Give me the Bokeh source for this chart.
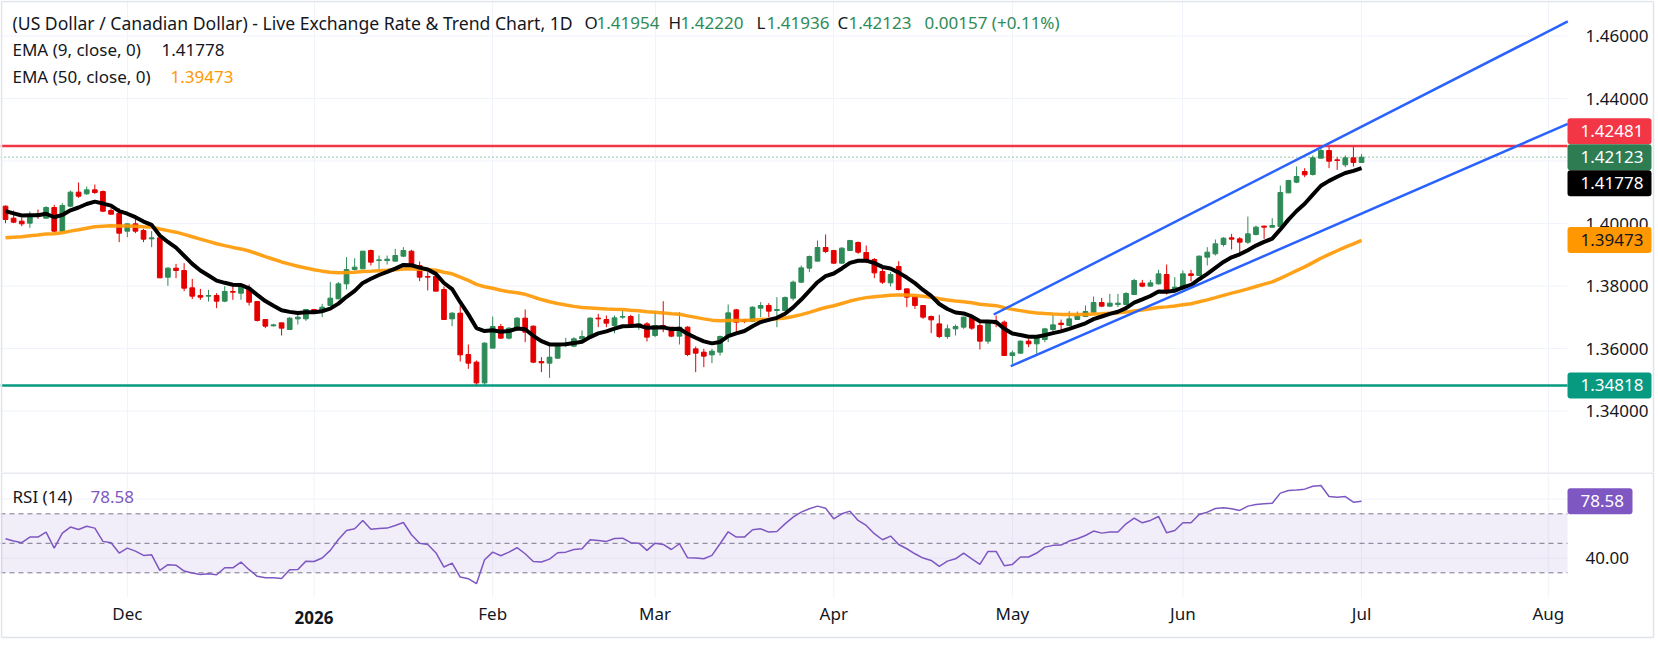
import datetime as dt
from bokeh.plotting import figure
from bokeh.layouts import column
from bokeh.models import (Range1d, FixedTicker, PrintfTickFormatter, BoxAnnotation,
                          Label, ColumnDataSource)
from bokeh.embed import file_html
from bokeh.resources import INLINE

# ---------------- data ----------------
first_day = dt.date(2025, 11, 10)

opens = [
    1.40555, 1.40171, 1.40075, 1.40011, 1.40309, 1.40171, 1.40512, 1.39755, 1.40555, 1.41003,
    1.40949, 1.41077, 1.41024, 1.40416, 1.40320, 1.39755, 1.39989, 1.39776, 1.39509, 1.39541,
    1.38283, 1.38571, 1.38496, 1.37941, 1.37696, 1.37675, 1.37696, 1.37515, 1.37824, 1.37771,
    1.37931, 1.37504, 1.36928, 1.36725, 1.36821, 1.36608, 1.36949, 1.36949, 1.37248, 1.37163,
    1.37376, 1.37589, 1.38069, 1.38528, 1.38549, 1.39136, 1.38816, 1.38816, 1.38795, 1.38955,
    1.39115, 1.38656, 1.38304, 1.38304, 1.37888, 1.36949, 1.37131, 1.35808, 1.35563, 1.34900,
    1.36011, 1.36704, 1.36331, 1.36619, 1.36971, 1.36715, 1.35584, 1.35531, 1.35691, 1.36128,
    1.36075, 1.36309, 1.36363, 1.36971, 1.36928, 1.36736, 1.37003, 1.37024, 1.36757, 1.36789,
    1.36416, 1.36736, 1.36683, 1.36395, 1.36683, 1.35989, 1.35883, 1.35797, 1.35883, 1.36384,
    1.37237, 1.36917, 1.36864, 1.37291, 1.37376, 1.37216, 1.37216, 1.37611, 1.38123, 1.38571,
    1.38795, 1.39232, 1.39136, 1.38731, 1.39136, 1.39392, 1.39072, 1.38848, 1.38464, 1.38101,
    1.38624, 1.37909, 1.37664, 1.37376, 1.37024, 1.36789, 1.36384, 1.36629, 1.36683, 1.36981,
    1.36736, 1.36235, 1.36843, 1.36843, 1.35776, 1.35851, 1.36235, 1.36149, 1.36288, 1.36608,
    1.36811, 1.36736, 1.36928, 1.37024, 1.37163, 1.37472, 1.37355, 1.37408, 1.37408, 1.37728,
    1.38091, 1.37995, 1.38069, 1.38368, 1.37824, 1.37909, 1.38389, 1.38336, 1.38923, 1.39029,
    1.39328, 1.39541, 1.39509, 1.39403, 1.39648, 1.39915, 1.39883, 1.39904, 1.40981, 1.41323,
    1.41664, 1.41568, 1.42091, 1.42336, 1.42037, 1.41877, 1.42101, 1.41954]

highs = [
    1.40576, 1.40416, 1.40181, 1.40384, 1.40448, 1.40555, 1.40597, 1.40651, 1.41056, 1.41312,
    1.41184, 1.41248, 1.41056, 1.40491, 1.40491, 1.39995, 1.40149, 1.39829, 1.39755, 1.39584,
    1.38603, 1.38709, 1.38731, 1.38229, 1.37909, 1.37877, 1.37771, 1.37995, 1.37995, 1.38037,
    1.38048, 1.37510, 1.36935, 1.36789, 1.36828, 1.37003, 1.37163, 1.37269, 1.37269, 1.37429,
    1.38123, 1.38123, 1.38923, 1.38891, 1.39120, 1.39168, 1.38976, 1.38976, 1.39189, 1.39243,
    1.39157, 1.38784, 1.38443, 1.38443, 1.37984, 1.37163, 1.37376, 1.36128, 1.35616, 1.36203,
    1.37024, 1.36789, 1.36683, 1.37003, 1.37248, 1.36736, 1.35723, 1.36149, 1.36171, 1.36341,
    1.36363, 1.36576, 1.37003, 1.37109, 1.37056, 1.37056, 1.37237, 1.37077, 1.37109, 1.36843,
    1.37184, 1.37515, 1.36690, 1.37163, 1.36715, 1.36064, 1.35989, 1.35989, 1.36416, 1.37408,
    1.37269, 1.36949, 1.37344, 1.37483, 1.37451, 1.37643, 1.37664, 1.38176, 1.38656, 1.38976,
    1.39456, 1.39648, 1.39157, 1.39243, 1.39477, 1.39424, 1.39296, 1.38891, 1.38581, 1.38443,
    1.38795, 1.37915, 1.37670, 1.37381, 1.37056, 1.37077, 1.36768, 1.36768, 1.37024, 1.37024,
    1.36864, 1.36896, 1.37056, 1.36896, 1.35936, 1.36256, 1.36309, 1.36416, 1.36661, 1.37077,
    1.36928, 1.37195, 1.37184, 1.37376, 1.37664, 1.37621, 1.37749, 1.37749, 1.37803, 1.38229,
    1.38197, 1.38197, 1.38517, 1.38688, 1.38283, 1.38496, 1.38517, 1.38976, 1.39243, 1.39488,
    1.39563, 1.39669, 1.39563, 1.40224, 1.39936, 1.39936, 1.40171, 1.41216, 1.41397, 1.41824,
    1.41771, 1.42176, 1.42443, 1.42481, 1.42123, 1.42176, 1.42464, 1.42220]

lows = [
    1.40011, 1.40011, 1.39915, 1.39861, 1.40149, 1.40165, 1.39723, 1.39750, 1.40523, 1.40821,
    1.40917, 1.40949, 1.40363, 1.40290, 1.39403, 1.39563, 1.39691, 1.39403, 1.39243, 1.38255,
    1.38005, 1.38251, 1.37835, 1.37579, 1.37557, 1.37504, 1.37291, 1.37483, 1.37557, 1.37557,
    1.37376, 1.36864, 1.36651, 1.36704, 1.36416, 1.36597, 1.36768, 1.36885, 1.37155, 1.37003,
    1.37370, 1.37580, 1.37888, 1.38496, 1.38540, 1.38656, 1.38549, 1.38688, 1.38790, 1.38923,
    1.38620, 1.38155, 1.37856, 1.37830, 1.36920, 1.36715, 1.35584, 1.35349, 1.34830, 1.34818,
    1.36005, 1.36309, 1.36288, 1.36555, 1.36203, 1.35531, 1.35243, 1.35061, 1.35669, 1.36043,
    1.36043, 1.36203, 1.36309, 1.36683, 1.36683, 1.36491, 1.36949, 1.36715, 1.36597, 1.36224,
    1.36363, 1.36523, 1.36363, 1.36128, 1.35755, 1.35243, 1.35403, 1.35531, 1.35776, 1.36203,
    1.36491, 1.36811, 1.36843, 1.37003, 1.37003, 1.36683, 1.37195, 1.37536, 1.38091, 1.38443,
    1.38790, 1.39051, 1.38709, 1.38709, 1.39130, 1.39029, 1.38731, 1.38251, 1.38069, 1.37984,
    1.37856, 1.37323, 1.37269, 1.36949, 1.36491, 1.36331, 1.36309, 1.36416, 1.36629, 1.36597,
    1.35968, 1.36149, 1.36683, 1.35770, 1.35509, 1.35829, 1.36043, 1.35829, 1.36203, 1.36469,
    1.36501, 1.36715, 1.36917, 1.37003, 1.37131, 1.37323, 1.37344, 1.37323, 1.37376, 1.37717,
    1.37963, 1.37990, 1.38048, 1.37728, 1.37803, 1.37856, 1.38144, 1.38325, 1.38656, 1.38976,
    1.39264, 1.39168, 1.38976, 1.39349, 1.39616, 1.39509, 1.39861, 1.39900, 1.40971, 1.41291,
    1.41483, 1.41536, 1.42085, 1.41771, 1.41717, 1.41803, 1.41824, 1.41936]

closes = [
    1.40128, 1.40043, 1.39989, 1.40288, 1.40256, 1.40512, 1.39755, 1.40576, 1.41003, 1.40875,
    1.41077, 1.40992, 1.40395, 1.40299, 1.39691, 1.39989, 1.39755, 1.39499, 1.39541, 1.38261,
    1.38571, 1.38496, 1.37931, 1.37675, 1.37643, 1.37696, 1.37515, 1.37824, 1.37803, 1.37995,
    1.37483, 1.36896, 1.36715, 1.36757, 1.36651, 1.36971, 1.37003, 1.37248, 1.37163, 1.37323,
    1.37611, 1.38069, 1.38528, 1.38603, 1.39115, 1.38763, 1.38837, 1.38859, 1.38976, 1.39136,
    1.38624, 1.38283, 1.38283, 1.37835, 1.36928, 1.37131, 1.35797, 1.35531, 1.34900, 1.36171,
    1.36704, 1.36331, 1.36651, 1.36971, 1.36523, 1.35563, 1.35541, 1.35723, 1.36128, 1.36171,
    1.36309, 1.36384, 1.36971, 1.36949, 1.36811, 1.36981, 1.37024, 1.36757, 1.36789, 1.36363,
    1.36736, 1.36683, 1.36395, 1.36683, 1.35808, 1.35851, 1.35755, 1.35915, 1.36384, 1.37141,
    1.36843, 1.36864, 1.37323, 1.37376, 1.37195, 1.37248, 1.37632, 1.38123, 1.38581, 1.38944,
    1.39232, 1.39104, 1.38731, 1.39211, 1.39456, 1.39083, 1.38816, 1.38421, 1.38123, 1.38368,
    1.37888, 1.37643, 1.37376, 1.37003, 1.36917, 1.36384, 1.36629, 1.36704, 1.37003, 1.36651,
    1.36235, 1.36843, 1.36789, 1.35776, 1.35861, 1.36235, 1.36149, 1.36384, 1.36629, 1.36757,
    1.36768, 1.36949, 1.37056, 1.37184, 1.37472, 1.37355, 1.37451, 1.37451, 1.37760, 1.38176,
    1.37995, 1.38101, 1.38389, 1.37803, 1.37963, 1.38389, 1.38336, 1.38955, 1.39083, 1.39349,
    1.39531, 1.39499, 1.39403, 1.39669, 1.39883, 1.39883, 1.39936, 1.40992, 1.41376, 1.41504,
    1.41557, 1.42101, 1.42336, 1.41995, 1.42016, 1.42101, 1.41954, 1.42123]

rsi_values = [
    53.1, 51.5, 50.4, 54.2, 54.2, 57.6, 46.7, 56.9, 61.0, 59.4,
    61.6, 60.3, 51.3, 50.4, 43.4, 46.7, 44.7, 41.8, 42.2, 31.6,
    35.5, 35.2, 31.2, 29.8, 28.9, 29.4, 28.7, 33.4, 33.4, 37.3,
    32.1, 27.6, 26.7, 26.7, 26.2, 32.1, 32.3, 37.9, 37.7, 40.0,
    45.2, 52.6, 58.7, 59.8, 65.5, 59.6, 60.1, 60.3, 62.1, 64.1,
    55.8, 50.1, 49.2, 43.6, 33.9, 36.6, 27.1, 26.0, 22.6, 38.8,
    44.0, 41.6, 44.0, 47.0, 42.9, 37.7, 37.3, 39.3, 43.6, 44.0,
    45.8, 46.3, 52.4, 51.9, 51.3, 53.3, 53.5, 50.4, 50.1, 45.2,
    50.1, 49.2, 45.8, 49.7, 40.2, 40.0, 39.5, 41.8, 49.7, 57.8,
    54.2, 54.2, 59.2, 59.8, 57.6, 58.0, 63.2, 67.7, 71.1, 73.4,
    75.2, 73.8, 66.6, 70.0, 71.8, 65.5, 62.1, 56.5, 52.4, 54.9,
    49.2, 46.3, 42.9, 40.0, 38.4, 34.3, 37.9, 39.5, 43.4, 39.5,
    35.7, 44.5, 44.5, 34.8, 35.7, 40.7, 40.7, 43.4, 47.4, 48.6,
    48.8, 51.5, 53.1, 55.3, 58.3, 56.9, 57.6, 57.6, 63.2, 67.1,
    63.9, 65.5, 68.2, 57.1, 58.7, 63.9, 63.9, 69.5, 71.1, 73.6,
    74.1, 73.4, 72.3, 75.2, 76.3, 76.8, 77.2, 84.0, 85.8, 86.2,
    86.7, 88.7, 89.2, 81.7, 81.3, 81.7, 77.9, 78.58]

ema9_start = 1.40395      # EMA values on the first bar
ema50_start = 1.39541
ema9_last_txt = "1.41778"
ema50_last_txt = "1.39473"

resistance = 1.42481
support = 1.34818
channel_upper_x = [121.7, 192.4]   # bar number / price
channel_upper_y = [1.37088, 1.46466]
channel_lower_x = [123.8, 192.4]
channel_lower_y = [1.35435, 1.43187]

price_ticks = [1.34, 1.36, 1.38, 1.40, 1.42, 1.44, 1.46]
rsi_ticks = [40, 80]
rsi_levels = [70, 50, 30]
month_names = {12: "Dec", 1: "2026", 2: "Feb", 3: "Mar", 4: "Apr",
               5: "May", 6: "Jun", 7: "Jul", 8: "Aug"}

# ---------------- derived ----------------
dates = []
d = first_day
while d <= dt.date(2026, 8, 7):
    if d.weekday() < 5:
        dates.append(d)
    d += dt.timedelta(days=1)
n = len(closes)
idx = list(range(n))

month_ticks, month_labels = [], {}
for i, dd in enumerate(dates):
    if i > 0 and dd.month != dates[i - 1].month:
        month_ticks.append(i)
        month_labels[i] = month_names[dd.month]


def ema(vals, period, seed):
    k = 2.0 / (period + 1)
    out = [seed]
    for v in vals[1:]:
        out.append(out[-1] + k * (v - out[-1]))
    return out


ema9 = ema(closes, 9, ema9_start)
ema50 = ema(closes, 50, ema50_start)

# ---------------- geometry (page pixels) ----------------
W, H1, H2 = 1658, 472, 175
PANE_R = 1567          # right edge of the chart panes, price scale to its right
RSI_BOT = 597          # bottom of RSI pane (page px)
BORDER_R, BORDER_B = 1653, 637
FONT = "Noto Sans"
FS = "17px"
TXT = "#131722"
UP, DOWN = "#2E8B57", "#E50000"
GRID = "#F0F3FA"
BORDER = "#E0E3EB"

BAR_PX, BAR0_PX = 8.12, 5.0


def bar_at(px):
    return (px - BAR0_PX) / BAR_PX


def price_at(py):
    return 1.46 - (py - 35.5) / 3125.0


def py_of(price):
    return 35.5 + (1.46 - price) * 3125.0


def rsi_at(py):           # py measured from the top of the page
    return 70 - (py - 513.3) / 1.475


def py_of_rsi(v):
    return 513.3 - (v - 70) * 1.475


x_range = Range1d(bar_at(0), bar_at(W))
xL, xR = bar_at(0), bar_at(PANE_R)


def style_axis(ax, standoff):
    ax.axis_line_color = None
    ax.major_tick_line_color = None
    ax.minor_tick_line_color = None
    ax.major_label_text_font = FONT
    ax.major_label_text_font_size = FS
    ax.major_label_text_color = TXT
    ax.major_label_standoff = standoff


def txt(fig, px, yval, s, color=TXT, bold=False, align="left", size=FS):
    fig.add_layout(Label(x=bar_at(px), y=yval, text=s, text_color=color,
                         text_font=FONT, text_font_size=size,
                         text_font_style="bold" if bold else "normal",
                         text_align=align, text_baseline="middle"))


def tag(fig, conv, py, s, bg, fg="white", right_px=1651):
    """price-scale tag: coloured box centred at page-pixel py plus its text"""
    fig.add_layout(BoxAnnotation(left=bar_at(PANE_R), right=bar_at(right_px),
                                 top=conv(py - 13), bottom=conv(py + 13),
                                 fill_color=bg, fill_alpha=1.0, line_color=None,
                                 border_radius=3))
    txt(fig, 1580, conv(py), s, fg)


# ================= main pane =================
p1 = figure(width=W, height=H1, x_range=x_range,
            y_range=Range1d(price_at(H1), price_at(0)),
            output_backend="svg", toolbar_location=None,
            x_axis_location=None, y_axis_location="right",
            min_border_left=0, min_border_right=0, min_border_top=0, min_border_bottom=0)
p1.outline_line_color = None
ya = p1.yaxis[0]
ya.ticker = FixedTicker(ticks=price_ticks)
ya.formatter = PrintfTickFormatter(format="%.5f")
ya.fixed_location = xR
style_axis(ya, 12)
p1.ygrid.visible = False
p1.xgrid.ticker = FixedTicker(ticks=month_ticks)
p1.xgrid.grid_line_color = GRID

# horizontal grid lines of the price scale (stop at the price scale)
p1.segment(x0=[xL] * len(price_ticks), x1=[xR] * len(price_ticks),
           y0=price_ticks, y1=price_ticks, line_color=GRID, line_width=1)

colors = [UP if c >= o else DOWN for o, c in zip(opens, closes)]
src = ColumnDataSource(dict(
    x=idx, o=opens, h=highs, l=lows, c=closes,
    top=[max(o, c) for o, c in zip(opens, closes)],
    bottom=[min(o, c) for o, c in zip(opens, closes)],
    color=colors))
p1.segment(x0="x", y0="l", x1="x", y1="h", line_color="color", line_width=1, source=src)
p1.vbar(x="x", width=0.58, top="top", bottom="bottom", fill_color="color",
        line_color="color", line_width=1, source=src)

p1.line(idx, ema50, line_color="#FF9800", line_width=3.5, line_alpha=0.9)
p1.line(idx, ema9, line_color="black", line_width=4)

p1.segment(x0=[xL], x1=[xR], y0=[closes[-1]], y1=[closes[-1]], line_color=UP,
           line_width=1, line_dash="1 3")
p1.segment(x0=[xL], x1=[xR], y0=[resistance], y1=[resistance], line_color="#F23645",
           line_width=2.5)
p1.segment(x0=[xL], x1=[xR], y0=[support], y1=[support], line_color="#089981",
           line_width=2.5)
p1.line(channel_upper_x, channel_upper_y, line_color="#2962FF", line_width=2.5)
p1.line(channel_lower_x, channel_lower_y, line_color="#2962FF", line_width=2.5)

# outer light border of the chart widget
p1.segment(x0=[bar_at(1), bar_at(1), bar_at(BORDER_R)], x1=[bar_at(BORDER_R), bar_at(1), bar_at(BORDER_R)],
           y0=[price_at(1), price_at(1), price_at(1)], y1=[price_at(1), price_at(H1), price_at(H1)],
           line_color=BORDER, line_width=1.5)

# header
row1 = price_at(22)
txt(p1, 12, row1, "(US Dollar / Canadian Dollar) - Live Exchange Rate & Trend Chart, 1D", size="17.6px")
txt(p1, 584, row1, "O")
txt(p1, 596, row1, "1.41954", UP)
txt(p1, 668, row1, "H")
txt(p1, 680, row1, "1.42220", UP)
txt(p1, 756, row1, "L")
txt(p1, 766, row1, "1.41936", UP)
txt(p1, 837, row1, "C")
txt(p1, 848, row1, "1.42123", UP)
txt(p1, 924, row1, "0.00157 (+0.11%)", UP)
row2 = price_at(49)
txt(p1, 12, row2, "EMA (9, close, 0)")
txt(p1, 161, row2, ema9_last_txt)
row3 = price_at(76)
txt(p1, 12, row3, "EMA (50, close, 0)")
txt(p1, 170, row3, ema50_last_txt, "#FF9800")

last_py = py_of(closes[-1])
tag(p1, price_at, last_py - 26, f"{resistance:.5f}", "#F23645")
tag(p1, price_at, last_py, f"{closes[-1]:.5f}", "#2E7D52")
tag(p1, price_at, last_py + 26, ema9_last_txt, "#000000")
tag(p1, price_at, py_of(float(ema50_last_txt)), ema50_last_txt, "#FF9800", TXT)
tag(p1, price_at, py_of(support), f"{support:.5f}", "#089981")

# ================= RSI pane =================
p2 = figure(width=W, height=H2, x_range=x_range,
            y_range=Range1d(rsi_at(H1 + H2), rsi_at(H1)),
            output_backend="svg", toolbar_location=None, y_axis_location="right",
            min_border_left=0, min_border_right=0, min_border_top=0, min_border_bottom=0)
p2.outline_line_color = None
ya2 = p2.yaxis[0]
ya2.ticker = FixedTicker(ticks=rsi_ticks)
ya2.formatter = PrintfTickFormatter(format="%.2f")
ya2.fixed_location = xR
style_axis(ya2, 12)
xa = p2.xaxis[0]
xa.ticker = FixedTicker(ticks=month_ticks)
xa.major_label_overrides = {k: ("" if v == "2026" else v) for k, v in month_labels.items()}
xa.fixed_location = rsi_at(RSI_BOT - 6)
style_axis(xa, 4)
p2.xgrid.visible = False
p2.ygrid.visible = False

r_top, r_bot = rsi_at(H1), rsi_at(RSI_BOT)
p2.segment(x0=month_ticks, x1=month_ticks, y0=[r_bot] * len(month_ticks),
           y1=[r_top] * len(month_ticks), line_color=GRID, line_width=1)
p2.segment(x0=[xL] * len(rsi_ticks), x1=[xR] * len(rsi_ticks), y0=rsi_ticks, y1=rsi_ticks,
           line_color=GRID, line_width=1)
p2.add_layout(BoxAnnotation(left=xL, right=xR, bottom=30, top=70, fill_color="#7E57C2",
                            fill_alpha=0.1, line_color=None))
p2.segment(x0=[xL] * 3, x1=[xR] * 3, y0=rsi_levels, y1=rsi_levels, line_color="#787B86",
           line_width=1, line_dash="5 4")
p2.line(idx, rsi_values, line_color="#7E57C2", line_width=1.5)

# pane separator + outer border
p2.segment(x0=[bar_at(1), bar_at(1), bar_at(BORDER_R), bar_at(1)],
           x1=[bar_at(BORDER_R), bar_at(1), bar_at(BORDER_R), bar_at(BORDER_R)],
           y0=[rsi_at(H1 + 0.5), r_top, r_top, rsi_at(BORDER_B)],
           y1=[rsi_at(H1 + 0.5), rsi_at(BORDER_B), rsi_at(BORDER_B), rsi_at(BORDER_B)],
           line_color=BORDER, line_width=1.5)

for k, v in month_labels.items():
    if v == "2026":
        p2.add_layout(Label(x=k, y=rsi_at(617), text=v, text_color=TXT, text_font=FONT,
                            text_font_size=FS, text_font_style="bold",
                            text_align="center", text_baseline="middle"))

rrow = rsi_at(496)
txt(p2, 12, rrow, "RSI (14)")
txt(p2, 90, rrow, f"{rsi_values[-1]:.2f}", "#7E57C2")
tag(p2, rsi_at, py_of_rsi(rsi_values[-1]), f"{rsi_values[-1]:.2f}", "#7E57C2", right_px=1632)

layout = column(p1, p2, spacing=0)
open("out.html", "w").write(file_html(layout, INLINE))
